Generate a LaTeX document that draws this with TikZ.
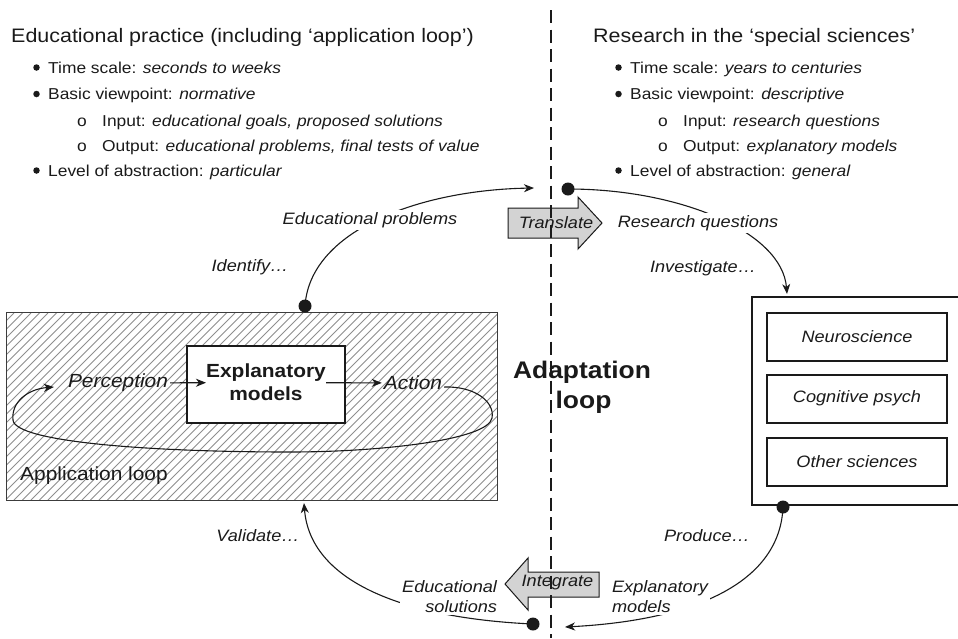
\documentclass[tikz,border=0pt]{standalone}
\usepackage{fontspec}
\setmainfont{Liberation Sans}[FakeStretch=1.1]
\usetikzlibrary{arrows.meta}
\definecolor{ink}{HTML}{1A1A1A}
\definecolor{hatchgray}{HTML}{8E8E8E}
\definecolor{blockfill}{HTML}{D3D3D3}
\begin{document}
\begin{tikzpicture}[x=1pt,y=-1pt,
  every node/.style={text=ink},
  heading/.style={font=\fontsize{19.5}{23}\selectfont, anchor=base west, inner sep=0pt},
  entry/.style={font=\fontsize{15.8}{19}\selectfont, anchor=base west, inner sep=0pt},
  bulletdot/.style={circle, fill=ink, inner sep=0pt, minimum size=6.5pt},
  lbl/.style={font=\fontsize{16.5}{20}\selectfont\itshape, inner sep=2pt},
  maskd/.style={lbl, fill=white},
  looptext/.style={font=\fontsize{19}{23}\selectfont\itshape, inner sep=2pt},
  core/.style={font=\fontsize{19}{23}\selectfont\bfseries, align=center, inner sep=0pt},
  bigbold/.style={font=\fontsize{24}{30}\selectfont\bfseries, anchor=base, inner sep=0pt},
  conn/.style={draw=ink, line width=1.1pt, -{Stealth[length=10pt,width=8pt,inset=3pt]}},
  dot/.style={circle, fill=ink, inner sep=0pt, minimum size=13pt},
  science/.style={draw=ink, line width=2pt, minimum width=180pt, minimum height=48pt,
                  font=\fontsize{16.5}{20}\selectfont\itshape},
  blockarrow/.style={draw=ink, fill=blockfill, line width=1pt, line join=miter},
]
\useasboundingbox (0,0) rectangle (958,638);

% ---------- header, left column ----------
\node[heading] (lt) at (11,42) {Educational practice (including ‘application loop’)};
\node[bulletdot] (lb1) at (36.5,67.5) {};
\node[entry] (l1)  at (48,73)    {Time scale: \textit{seconds to weeks}};
\node[bulletdot] (lb2) at (36.5,94) {};
\node[entry] (l2)  at (48,99.5)  {Basic viewpoint: \textit{normative}};
\node[entry] (lc3) at (77,126)   {o};
\node[entry] (l3)  at (102,126)  {Input: \textit{educational goals, proposed solutions}};
\node[entry] (lc4) at (77,151.5) {o};
\node[entry] (l4)  at (102,151.5){Output: \textit{educational problems, final tests of value}};
\node[bulletdot] (lb5) at (36.5,170.5) {};
\node[entry] (l5)  at (48,176)   {Level of abstraction: \textit{particular}};

% ---------- header, right column ----------
\node[heading] (rt) at (593,42) {Research in the ‘special sciences’};
\node[bulletdot] (rb1) at (618.5,67.5) {};
\node[entry] (r1)  at (630,73)    {Time scale: \textit{years to centuries}};
\node[bulletdot] (rb2) at (618.5,94) {};
\node[entry] (r2)  at (630,99.5)  {Basic viewpoint: \textit{descriptive}};
\node[entry] (rc3) at (658,126)   {o};
\node[entry] (r3)  at (683,126)   {Input: \textit{research questions}};
\node[entry] (rc4) at (658,151.5) {o};
\node[entry] (r4)  at (683,151.5) {Output: \textit{explanatory models}};
\node[bulletdot] (rb5) at (618.5,170.5) {};
\node[entry] (r5)  at (630,176)   {Level of abstraction: \textit{general}};

% ---------- application loop panel (hatched) ----------
\node[minimum width=490pt, minimum height=187pt, inner sep=0pt] (app) at (252,406.5) {};
\begin{scope}
  \clip (app.south west) rectangle (app.north east);
  \foreach \i in {-190,-181.5,...,500}
    \draw[hatchgray, line width=0.8pt] (\i,500) -- (\i+187,313);
\end{scope}
\draw[ink!85, line width=0.9pt] (app.south west) rectangle (app.north east);

\node[draw=ink, line width=2pt, fill=white, minimum width=158pt, minimum height=77pt] (embox) at (266,384.5) {};
\node[core] (em) at (266,382.5) {Explanatory\\models};
\node[looptext] (per) at (118,383) {Perception};
\node[looptext] (act) at (413,383) {Action};
\draw[conn] (per) -- (em);
\draw[conn] (em) -- (act);
\draw[conn] ([yshift=-4pt]act.east) .. controls (475,386) and (495,402) .. (492,418)
  .. controls (488,440) and (380,452) .. (290,452)
  .. controls (150,452) and (15,442) .. (13,420)
  .. controls (11,402) and (28,389) .. ([xshift=-12pt,yshift=-4pt]per.west);
\node[font=\fontsize{19}{23}\selectfont, anchor=base west, inner sep=0pt] (apl) at (20,480) {Application loop};

% ---------- research panel ----------
\draw[ink, line width=2.5pt] (966,297) -- (752,297) -- (752,505) -- (966,505);
\node[science] (neu) at (857,336.5) {Neuroscience};
\node[science] (cog) at (857,398.5) {Cognitive psych};
\node[science] (oth) at (857,461.5) {Other sciences};

% ---------- block arrows across the divide ----------
\draw[blockarrow] (508,208) -- (578,208) -- (578,197) -- (602,223) -- (578,249) -- (578,238) -- (508,238) -- cycle;
\draw[blockarrow] (599,572) -- (528,572) -- (528,558) -- (505,584) -- (528,610) -- (528,597) -- (599,597) -- cycle;

% ---------- divider ----------
\draw[ink, line width=1.6pt, dash pattern=on 13pt off 6.5pt] (551,10) -- (551,638);

\node[lbl] (tr) at (556,223) {Translate};
\node[lbl] (ig) at (557.5,583) {Integrate};
\node[bigbold] (ad1) at (582,378) {Adaptation};
\node[bigbold] (ad2) at (583.5,408) {loop};

% ---------- adaptation loop connectors ----------
\node[dot] (d1) at (305,306) {};
\coordinate (t1) at (534,188);
\draw[conn] (d1.center) .. controls (310,230) and (420,190) .. (t1);
\node[maskd] (ep) at (370,220) {Educational problems};
\node[lbl] (idf) at (250,267) {Identify…};

\node[dot] (d2) at (568,189) {};
\coordinate (t2) at (787,294);
\draw[conn] (d2.center) .. controls (680,189) and (782,232) .. (t2);
\node[maskd] (rq) at (698,223) {Research questions};
\node[lbl] (inv) at (703,268) {Investigate…};

\node[dot] (d3) at (783,507) {};
\coordinate (t3) at (565,627);
\draw[conn] (d3.center) .. controls (780,580) and (700,620) .. (t3);
\node[lbl] (pro) at (707,536) {Produce…};
\node[maskd, align=left] (exm) at (660,597) {Explanatory\\models};

\node[dot] (d4) at (533,624) {};
\coordinate (t4) at (304,503);
\draw[conn] (d4.center) .. controls (400,618) and (310,580) .. (t4);
\node[maskd, align=right] (es) at (449.6,596.5) {Educational\\solutions};
\node[lbl] (val) at (258,536) {Validate…};
\end{tikzpicture}
\end{document}
